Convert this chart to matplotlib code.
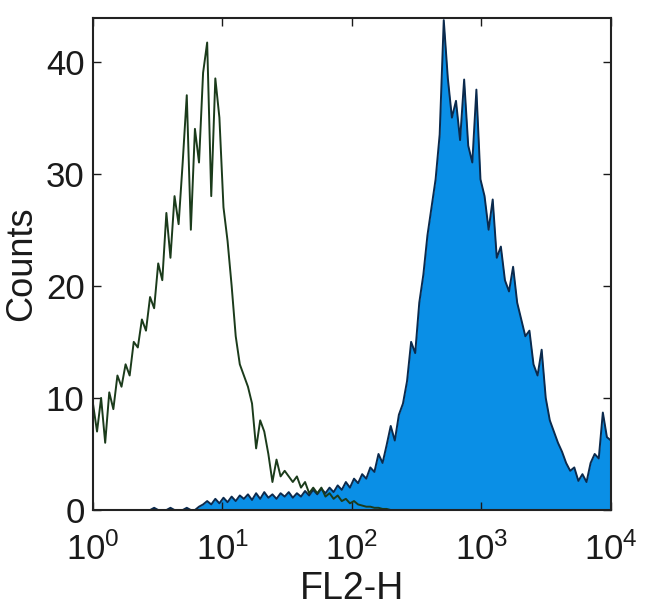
import matplotlib
matplotlib.use("Agg")
import matplotlib.pyplot as plt
import numpy as np
from matplotlib.ticker import FixedLocator, FixedFormatter, NullLocator

plt.rcParams["font.family"] = ["Liberation Sans", "DejaVu Sans"]
plt.rcParams["mathtext.fontset"] = "custom"
plt.rcParams["mathtext.rm"] = "Liberation Sans"
plt.rcParams["mathtext.it"] = "Liberation Sans"
plt.rcParams["mathtext.bf"] = "Liberation Sans:bold"

# histogram counts, 128 log-spaced channels from 10^0 to 10^4
control_counts = [
    9.5, 7.0, 10.0, 6.0, 10.5, 9.0, 12.0, 11.0, 13.0, 12.0,
    15.0, 14.5, 17.0, 16.0, 19.0, 18.0, 22.0, 20.5, 26.5, 22.5,
    28.0, 25.5, 31.0, 37.0, 25.0, 34.0, 31.0, 39.0, 41.7, 28.0,
    38.5, 35.0, 27.0, 24.0, 20.0, 15.5, 13.0, 12.0, 11.0, 9.5,
    5.5, 8.0, 7.0, 5.0, 2.5, 4.5, 3.0, 3.5, 3.0, 2.5,
    3.0, 2.0, 2.5, 1.5, 2.0, 1.5, 2.0, 1.2, 1.5, 1.0,
    1.3, 0.8, 1.0, 0.6, 0.8, 0.5, 0.4, 0.3, 0.3, 0.2,
    0.2, 0.1, 0.1, 0.0, 0.0, 0.0, 0.0, 0.0, 0.0, 0.0,
    0.0, 0.0, 0.0, 0.0, 0.0, 0.0, 0.0, 0.0, 0.0, 0.0,
    0.0, 0.0, 0.0, 0.0, 0.0, 0.0, 0.0, 0.0, 0.0, 0.0,
    0.0, 0.0, 0.0, 0.0, 0.0, 0.0, 0.0, 0.0, 0.0, 0.0,
    0.0, 0.0, 0.0, 0.0, 0.0, 0.0, 0.0, 0.0, 0.0, 0.0,
    0.0, 0.0, 0.0, 0.0, 0.0, 0.0, 0.0, 0.0,
]
stained_counts = [
    0.0, 0.0, 0.0, 0.0, 0.0, 0.0, 0.0, 0.0, 0.0, 0.0,
    0.0, 0.0, 0.0, 0.0, 0.0, 0.2, 0.0, 0.0, 0.0, 0.2,
    0.0, 0.0, 0.0, 0.2, 0.0, 0.0, 0.3, 0.5, 0.8, 0.5,
    1.0, 0.6, 1.1, 0.7, 1.2, 0.8, 1.3, 1.0, 1.4, 0.9,
    1.5, 1.0, 1.6, 1.1, 1.4, 1.0, 1.5, 1.2, 1.6, 1.1,
    1.5, 1.2, 1.7, 1.3, 1.8, 1.4, 1.9, 1.5, 2.0, 1.6,
    2.2, 1.8, 2.5, 2.0, 2.8, 2.4, 3.2, 2.8, 3.8, 3.4,
    5.0, 4.2, 5.8, 7.5, 6.2, 8.5, 9.5, 11.5, 15.0, 14.0,
    18.5, 21.0, 24.5, 27.0, 29.5, 33.5, 43.7, 38.5, 35.0, 36.5,
    33.0, 38.4, 32.5, 31.0, 37.5, 29.5, 28.0, 25.0, 27.7, 22.5,
    23.5, 20.5, 19.5, 21.7, 18.5, 17.0, 15.5, 16.0, 13.0, 12.0,
    14.3, 10.0, 8.0, 7.0, 6.0, 5.2, 4.2, 3.5, 3.8, 2.6,
    3.2, 2.5, 4.2, 5.0, 4.6, 8.7, 6.5, 6.2,
]

y_ticks = [0, 10, 20, 30, 40]
x_ticks = [1, 10, 100, 1000, 10000]
x_tick_labels = [r"$10^{0}$", r"$10^{1}$", r"$10^{2}$", r"$10^{3}$", r"$10^{4}$"]

channels = np.logspace(0, 4, len(control_counts))

fig = plt.figure(figsize=(6.5, 6.16), dpi=100)
ax = fig.add_axes([0.143, 0.172, 0.797, 0.799])

ax.fill_between(channels, stained_counts, color="#0a8fe6", lw=0)
ax.plot(channels, stained_counts, color="#0b2a4d", lw=1.4)
ax.plot(channels, control_counts, color="#1b3b1b", lw=1.4)

ax.set_xscale("log")
ax.set_xlim(1, 10000)
ax.set_ylim(0, 43.9)
ax.xaxis.set_major_locator(FixedLocator(x_ticks))
ax.xaxis.set_major_formatter(FixedFormatter(x_tick_labels))
ax.xaxis.set_minor_locator(NullLocator())
ax.set_yticks(y_ticks)

ax.tick_params(direction="in", top=True, right=True, length=6, width=1.0,
               labelsize=25, colors="#1a1a1a")
ax.tick_params(axis="x", pad=16)
ax.tick_params(axis="y", pad=6)
for spine in ax.spines.values():
    spine.set_linewidth(1.5)
    spine.set_color("#222222")

ax.set_xlabel("FL2-H", fontsize=27, color="#1a1a1a", labelpad=3)
ax.set_ylabel("Counts", fontsize=26, color="#1a1a1a", labelpad=5)

fig.savefig("out.png", dpi=100)
